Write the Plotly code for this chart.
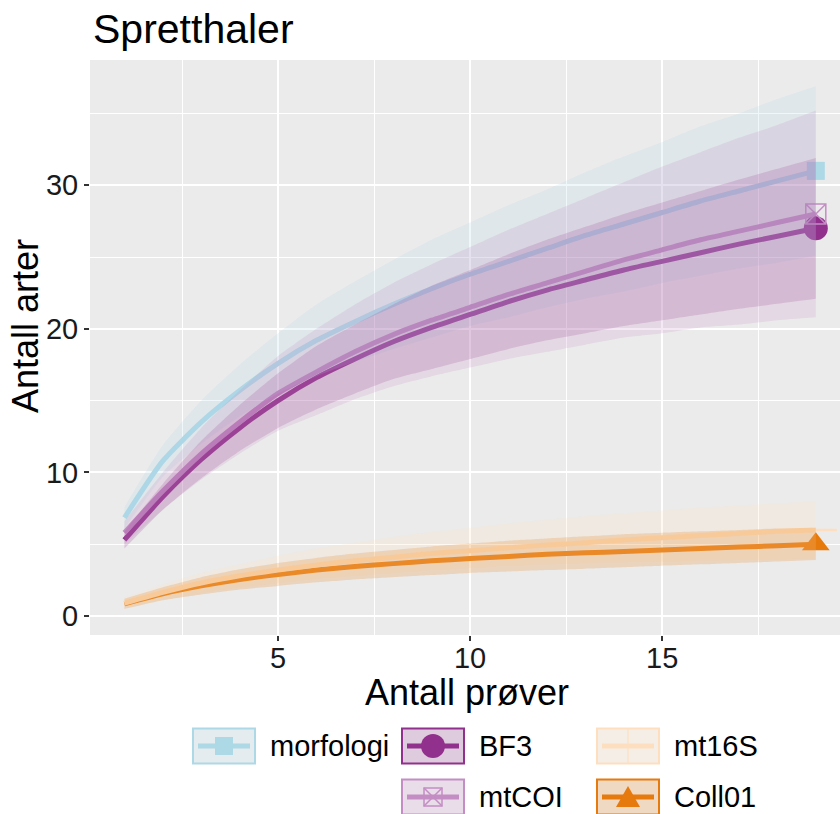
import plotly.graph_objects as go

# ---------------- data ----------------
samples = list(range(1, 20))

morfologi_mean = [6.85, 10.8, 13.5, 15.7, 17.6, 19.2, 20.5, 21.7, 22.8, 23.8, 24.7, 25.6, 26.5, 27.3, 28.1, 28.9, 29.6, 30.3, 31.0]
morfologi_lo = [6.1, 9.7, 12.0, 13.9, 15.5, 16.7, 17.7, 18.6, 19.4, 20.2, 20.8, 21.5, 22.1, 22.6, 23.2, 23.7, 24.2, 24.6, 25.1]
morfologi_hi = [7.6, 11.9, 15.0, 17.5, 19.7, 21.7, 23.3, 24.8, 26.2, 27.4, 28.6, 29.7, 30.9, 32.0, 33.0, 34.1, 35.0, 36.0, 36.9]

BF3_mean = [5.3, 8.3, 10.9, 13.1, 15.0, 16.6, 17.9, 19.1, 20.1, 21.0, 21.9, 22.7, 23.4, 24.1, 24.7, 25.3, 25.9, 26.45, 27.0]
BF3_lo = [4.7, 7.4, 9.6, 11.5, 13.1, 14.4, 15.5, 16.5, 17.2, 17.9, 18.6, 19.2, 19.7, 20.2, 20.6, 21.0, 21.4, 21.75, 22.1]
BF3_hi = [5.9, 9.2, 12.2, 14.7, 16.9, 18.8, 20.3, 21.7, 23.0, 24.1, 25.2, 26.2, 27.1, 28.0, 28.8, 29.6, 30.4, 31.15, 31.9]

mtCOI_mean = [5.8, 8.7, 11.3, 13.5, 15.5, 17.0, 18.4, 19.6, 20.6, 21.5, 22.4, 23.2, 24.0, 24.8, 25.5, 26.2, 26.8, 27.4, 28.0]
mtCOI_lo = [5.0, 7.4, 9.5, 11.3, 12.9, 14.0, 15.1, 16.0, 16.7, 17.3, 17.9, 18.4, 18.9, 19.4, 19.7, 20.1, 20.3, 20.6, 20.8]
mtCOI_hi = [6.6, 10.0, 13.1, 15.7, 18.1, 20.0, 21.7, 23.2, 24.5, 25.7, 26.9, 28.0, 29.1, 30.2, 31.3, 32.3, 33.3, 34.2, 35.2]

mt16S_mean = [0.9, 1.65, 2.3, 2.8, 3.2, 3.55, 3.85, 4.1, 4.35, 4.55, 4.75, 4.95, 5.1, 5.3, 5.45, 5.6, 5.75, 5.9, 6.0]
mt16S_lo = [0.5, 1.1, 1.6, 2.0, 2.3, 2.6, 2.8, 3.0, 3.2, 3.35, 3.5, 3.6, 3.7, 3.75, 3.8, 3.85, 3.9, 3.95, 4.0]
mt16S_hi = [1.3, 2.2, 3.0, 3.6, 4.2, 4.7, 5.1, 5.5, 5.85, 6.15, 6.45, 6.7, 6.95, 7.15, 7.35, 7.55, 7.7, 7.85, 8.0]

Coll01_mean = [0.85, 1.55, 2.1, 2.55, 2.9, 3.2, 3.45, 3.65, 3.85, 4.0, 4.15, 4.3, 4.4, 4.5, 4.6, 4.7, 4.8, 4.9, 5.0]
Coll01_lo = [0.5, 1.1, 1.5, 1.85, 2.1, 2.35, 2.55, 2.7, 2.85, 3.0, 3.1, 3.2, 3.3, 3.4, 3.5, 3.6, 3.7, 3.8, 3.9]
Coll01_hi = [1.2, 2.0, 2.7, 3.25, 3.7, 4.05, 4.35, 4.6, 4.85, 5.05, 5.25, 5.4, 5.55, 5.7, 5.8, 5.9, 6.0, 6.1, 6.15]

x_ticks = [5, 10, 15]
y_ticks = [0, 10, 20, 30]

series_names = ["morfologi", "BF3", "mtCOI", "mt16S", "Coll01"]
colors = {"morfologi": "#ADD8E6", "BF3": "#92308D", "mtCOI": "#C48DC4",
          "mt16S": "#FDDFC0", "Coll01": "#E77A0C"}
symbols = {"morfologi": "square", "BF3": "circle", "mtCOI": "square-x-open",
           "mt16S": "line-ew-open", "Coll01": "triangle-up"}
msizes = {"morfologi": 18, "BF3": 24, "mtCOI": 20, "mt16S": 30, "Coll01": 24}
data = {
    "morfologi": (morfologi_mean, morfologi_lo, morfologi_hi),
    "BF3": (BF3_mean, BF3_lo, BF3_hi),
    "mtCOI": (mtCOI_mean, mtCOI_lo, mtCOI_hi),
    "mt16S": (mt16S_mean, mt16S_lo, mt16S_hi),
    "Coll01": (Coll01_mean, Coll01_lo, Coll01_hi),
}
line_order = ["morfologi", "BF3", "mtCOI", "Coll01", "mt16S"]


def rgba(hexc, a):
    h = hexc.lstrip("#")
    r, g, b = int(h[0:2], 16), int(h[2:4], 16), int(h[4:6], 16)
    return f"rgba({r},{g},{b},{a})"


FONT = "Liberation Sans, Arial, sans-serif"
W, H = 840, 814
PL, PR, PT, PB = 90, 840, 60, 635  # plot area in px

fig = go.Figure()

# lines
for s in line_order:
    m, lo, hi = data[s]
    fig.add_trace(go.Scatter(x=samples, y=m, mode="lines",
                             line=dict(color=colors[s], width=5, shape="spline", smoothing=0.6),
                             showlegend=False, hoverinfo="skip"))
# end markers
for s in line_order:
    m, lo, hi = data[s]
    mk = dict(symbol=symbols[s], size=msizes[s], color=colors[s])
    if s == "mtCOI":
        mk["line"] = dict(color=colors[s], width=1.5)
    elif s == "mt16S":
        mk["line"] = dict(color=colors[s], width=2.5)
    else:
        mk["line"] = dict(width=0)
    fig.add_trace(go.Scatter(x=[samples[-1]], y=[m[-1]], mode="markers", marker=mk,
                             showlegend=False, cliponaxis=False, hoverinfo="skip"))
# ribbons drawn on top (as in the reference)
for s in series_names:
    m, lo, hi = data[s]
    fig.add_trace(go.Scatter(x=samples, y=lo, mode="lines",
                             line=dict(width=0, color=rgba(colors[s], 0), shape="spline", smoothing=0.6),
                             showlegend=False, hoverinfo="skip"))
    fig.add_trace(go.Scatter(x=samples, y=hi, mode="lines", fill="tonexty",
                             fillcolor=rgba(colors[s], 0.2),
                             line=dict(width=0, color=rgba(colors[s], 0), shape="spline", smoothing=0.6),
                             showlegend=False, hoverinfo="skip"))

fig.update_layout(
    width=W, height=H,
    margin=dict(l=PL, r=W - PR, t=PT, b=H - PB, autoexpand=False),
    paper_bgcolor="white", plot_bgcolor="#EBEBEB",
    font=dict(family=FONT, color="black"),
    showlegend=False,
)
fig.update_xaxes(range=[0.104, 19.63], tickmode="array", tickvals=x_ticks, ticktext=[str(v) for v in x_ticks],
                 showgrid=True, gridcolor="white", gridwidth=1.8, zeroline=False,
                 ticks="outside", ticklen=5, tickwidth=1.5, tickcolor="#333333",
                 tickfont=dict(size=29, color="#1a1a1a", family=FONT), ticklabelstandoff=-8,
                 minor=dict(tickmode="array", tickvals=[2.5, 7.5, 12.5, 17.5], showgrid=True,
                            gridcolor="white", gridwidth=0.9, ticks=""),
                 showline=False, automargin=False)
fig.update_yaxes(range=[-1.32, 38.72], tickmode="array", tickvals=y_ticks, ticktext=[str(v) for v in y_ticks],
                 showgrid=True, gridcolor="white", gridwidth=1.8, zeroline=False,
                 ticks="outside", ticklen=5, tickwidth=1.5, tickcolor="#333333",
                 tickfont=dict(size=29, color="#1a1a1a", family=FONT),
                 minor=dict(tickmode="array", tickvals=[5, 15, 25, 35], showgrid=True,
                            gridcolor="white", gridwidth=0.9, ticks=""),
                 showline=False, automargin=False)


def px_x(px):
    return (px - PL) / (PR - PL)


def px_y(py):
    return (PB - py) / (PB - PT)


annotations = [
    dict(text="Spretthaler", x=px_x(91), y=px_y(29), xref="paper", yref="paper", xanchor="left", yanchor="middle",
         showarrow=False, font=dict(size=41, family=FONT, color="black")),
    dict(text="Antall prøver", x=px_x(467), y=px_y(692), xref="paper", yref="paper", xanchor="center", yanchor="middle",
         showarrow=False, font=dict(size=36, family=FONT, color="black")),
    dict(text="Antall arter", x=px_x(25), y=px_y(326), xref="paper", yref="paper", xanchor="center", yanchor="middle",
         textangle=-90, showarrow=False, font=dict(size=36, family=FONT, color="black")),
]

# ---------------- custom legend (ggplot-style keys) ----------------
shapes = []
legend_items = [
    ("morfologi", 193, 746),
    ("BF3", 402, 746),
    ("mt16S", 597, 746),
    ("mtCOI", 402, 797),
    ("Coll01", 597, 797),
]
KW, KH = 62, 35
for s, kx, cy in legend_items:
    c = colors[s]
    x0, x1 = px_x(kx), px_x(kx + KW)
    y0, y1 = px_y(cy + KH / 2), px_y(cy - KH / 2)
    shapes.append(dict(type="rect", xref="paper", yref="paper", x0=x0, x1=x1, y0=y0, y1=y1,
                       fillcolor="#F2F2F2", line=dict(width=0), layer="above"))
    shapes.append(dict(type="rect", xref="paper", yref="paper", x0=x0, x1=x1, y0=y0, y1=y1,
                       fillcolor=rgba(c, 0.2), line=dict(color=c, width=2), layer="above"))
    shapes.append(dict(type="line", xref="paper", yref="paper", x0=px_x(kx + 5), x1=px_x(kx + KW - 5),
                       y0=px_y(cy), y1=px_y(cy), line=dict(color=c, width=5), layer="above"))
    mx = kx + KW / 2
    if s == "morfologi":
        h = 9
        shapes.append(dict(type="rect", xref="paper", yref="paper", x0=px_x(mx - h), x1=px_x(mx + h),
                           y0=px_y(cy + h), y1=px_y(cy - h), fillcolor=c, line=dict(width=0), layer="above"))
    elif s == "BF3":
        r = 12
        shapes.append(dict(type="circle", xref="paper", yref="paper", x0=px_x(mx - r), x1=px_x(mx + r),
                           y0=px_y(cy + r), y1=px_y(cy - r), fillcolor=c, line=dict(width=0), layer="above"))
    elif s == "mtCOI":
        h = 9
        shapes.append(dict(type="rect", xref="paper", yref="paper", x0=px_x(mx - h), x1=px_x(mx + h),
                           y0=px_y(cy + h), y1=px_y(cy - h), line=dict(color=c, width=1.5), layer="above"))
        path = (f"M {px_x(mx - h)},{px_y(cy - h)} L {px_x(mx + h)},{px_y(cy + h)} "
                f"M {px_x(mx - h)},{px_y(cy + h)} L {px_x(mx + h)},{px_y(cy - h)}")
        shapes.append(dict(type="path", xref="paper", yref="paper", path=path,
                           line=dict(color=c, width=1.5), layer="above"))
    elif s == "mt16S":
        shapes.append(dict(type="line", xref="paper", yref="paper", x0=px_x(mx), x1=px_x(mx),
                           y0=px_y(cy + KH / 2), y1=px_y(cy - KH / 2), line=dict(color=c, width=1.2), layer="above"))
    elif s == "Coll01":
        h = 12
        path = (f"M {px_x(mx - h)},{px_y(cy + 10)} L {px_x(mx + h)},{px_y(cy + 10)} "
                f"L {px_x(mx)},{px_y(cy - 11)} Z")
        shapes.append(dict(type="path", xref="paper", yref="paper", path=path, fillcolor=c,
                           line=dict(width=0), layer="above"))
    annotations.append(dict(text=s, x=px_x(kx + KW + 13), y=px_y(cy), xref="paper", yref="paper",
                            xanchor="left", yanchor="middle", showarrow=False,
                            font=dict(size=29, family=FONT, color="black")))

fig.update_layout(shapes=shapes, annotations=annotations)
fig.write_html("out.html", config={"displayModeBar": False},
               post_script="document.body.style.margin='0';document.body.style.overflow='hidden';")
